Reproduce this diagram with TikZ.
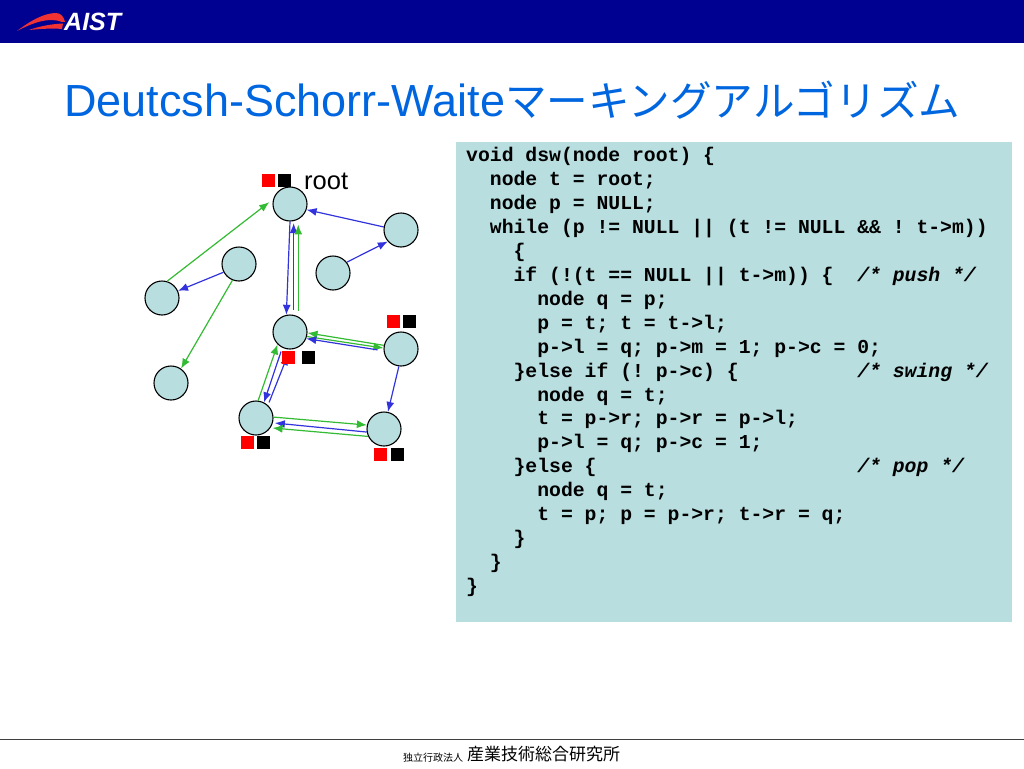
\documentclass[tikz,border=0pt]{standalone}
\usepackage{fontspec}
\setmainfont{Liberation Sans}
\setmonofont{Liberation Mono}
\newfontfamily\jpfont{Noto Sans CJK JP}
\usetikzlibrary{arrows.meta}
\definecolor{navy}{RGB}{0,0,145}
\definecolor{titleblue}{RGB}{0,102,224}
\definecolor{panel}{RGB}{184,222,224}
\definecolor{linkblue}{RGB}{51,51,221}
\definecolor{linkgreen}{RGB}{51,187,51}
\definecolor{logored}{RGB}{240,50,50}
\tikzset{
  vertex/.style={circle,draw=black,fill=panel,line width=1.1pt,minimum size=34pt,inner sep=0pt},
  bluelink/.style={draw=linkblue,line width=1.2pt,-{Latex[length=10pt,width=8pt]}},
  greenlink/.style={draw=linkgreen,line width=1.2pt,-{Latex[length=10pt,width=8pt]}},
  redmark/.style={fill=red,inner sep=0pt,minimum size=13pt,anchor=north west},
  blackmark/.style={fill=black,inner sep=0pt,minimum size=13pt,anchor=north west},
}
\begin{document}
\begin{tikzpicture}[x=1pt,y=-1pt]
\useasboundingbox (0,0) rectangle (1024,768);
\fill[white] (0,0) rectangle (1024,768);
\fill[navy] (0,0) rectangle (1024,43);
% logo
\fill[logored] (17,31) .. controls (30,21) and (44,13) .. (56,13) .. controls (61,13) and (64,17) .. (65,22) -- (62,22) .. controls (50,17) and (34,22) .. cycle;
\fill[logored] (29,30) .. controls (40,26) and (52,24) .. (63,23.5) -- (62,29) .. controls (52,28) and (40,29) .. cycle;
\node[anchor=base west,inner sep=0pt,text=white,font=\fontsize{25}{25}\selectfont\bfseries\itshape] (logo) at (64,31) {AIST};
% title
\node[anchor=base west,inner sep=0pt,text=titleblue,font=\fontsize{45}{45}\selectfont] (title) at (64,116) {Deutcsh-Schorr-Waite{\jpfont\fontsize{41.6}{45}\selectfont マーキングアルゴリズム}};
% code panel
\node[anchor=north west,fill=panel,minimum width=556pt,minimum height=480pt,inner sep=0pt] (panelbox) at (456,142) {};
\node[anchor=north west,inner sep=0pt,align=left,font=\ttfamily\bfseries\fontsize{19.75}{23.95}\selectfont] (code) at (466,147) {%
void dsw(node root) \{\\
~~node t = root;\\
~~node p = NULL;\\
~~while (p != NULL || (t != NULL \&\& ! t->m))\\
~~~~\{\\
~~~~if (!(t == NULL || t->m)) \{~~\textit{/* push */}\\
~~~~~~node q = p;\\
~~~~~~p = t; t = t->l;\\
~~~~~~p->l = q; p->m = 1; p->c = 0;\\
~~~~\}else if (! p->c) \{~~~~~~~~~~\textit{/* swing */}\\
~~~~~~node q = t;\\
~~~~~~t = p->r; p->r = p->l;\\
~~~~~~p->l = q; p->c = 1;\\
~~~~\}else \{~~~~~~~~~~~~~~~~~~~~~~\textit{/* pop */}\\
~~~~~~node q = t;\\
~~~~~~t = p; p = p->r; t->r = q;\\
~~~~\}\\
~~\}\\
\}};
% vertices
\node[vertex] (root) at (290,204) {};
\node[vertex] (R) at (401,230) {};
\node[vertex] (M) at (333,273) {};
\node[vertex] (La) at (239,264) {};
\node[vertex] (Lb) at (162,298) {};
\node[vertex] (Lc) at (171,383) {};
\node[vertex] (C) at (290,332) {};
\node[vertex] (E) at (401,349) {};
\node[vertex] (SW) at (256,418) {};
\node[vertex] (SE) at (384,429) {};
% connectors
\draw[greenlink,shorten >=5pt] (Lb.73) -- (root.164);
\draw[bluelink] (root.270) -- (C.102);
\draw[bluelink,shorten <=5pt,shorten >=2pt] (C.78) -- (root.282);
\draw[greenlink,shorten <=6pt,shorten >=5pt] (C.62) -- (root.298);
\draw[bluelink] (R.170) -- (root.-19);
\draw[bluelink] (M.38) -- (R.221);
\draw[bluelink] (La.208) -- (Lb.24);
\draw[greenlink] (La.248) -- (Lc.55);
\draw[greenlink] (E.168) -- (C.-3);
\draw[greenlink] (C.-15) -- (E.177);
\draw[bluelink,shorten <=6pt] (E.186) -- (C.-22);
\draw[bluelink] (E.263) -- (SE.77);
\draw[greenlink] (SW.83) -- (C.225);
\draw[bluelink,shorten <=4pt] (C.244) -- (SW.63);
\draw[bluelink,shorten <=3pt,shorten >=6pt] (SW.47) -- (C.270);
\draw[greenlink] (SW.3) -- ([yshift=0pt]SE.167);
\draw[bluelink,shorten >=2pt] (SE.190) -- (SW.-16);
\draw[greenlink,shorten >=2pt] (SE.205) -- (SW.-34);
% marks
\node[redmark] (ra) at (262,174) {};
\node[blackmark] (ba) at (278,174) {};
\node[redmark] (rb) at (387,315) {};
\node[blackmark] (bb) at (403,315) {};
\node[redmark] (rc) at (282,351) {};
\node[blackmark] (bc) at (302,351) {};
\node[redmark] (rd) at (241,436) {};
\node[blackmark] (bd) at (257,436) {};
\node[redmark] (re) at (374,448) {};
\node[blackmark] (be) at (391,448) {};
\node[anchor=base west,inner sep=0pt,font=\fontsize{25.5}{25.5}\selectfont] (rootlabel) at (304,189) {root};
% footer
\draw[draw=black!75,line width=1pt] (0,739) -- (1024,739);
\node[anchor=base west,inner sep=0pt,font=\jpfont\fontsize{10}{10}\selectfont] (fa) at (403,761) {独立行政法人};
\node[anchor=base west,inner sep=0pt,font=\jpfont\fontsize{17}{17}\selectfont] (fb) at (467,760) {産業技術総合研究所};
\end{tikzpicture}
\end{document}
